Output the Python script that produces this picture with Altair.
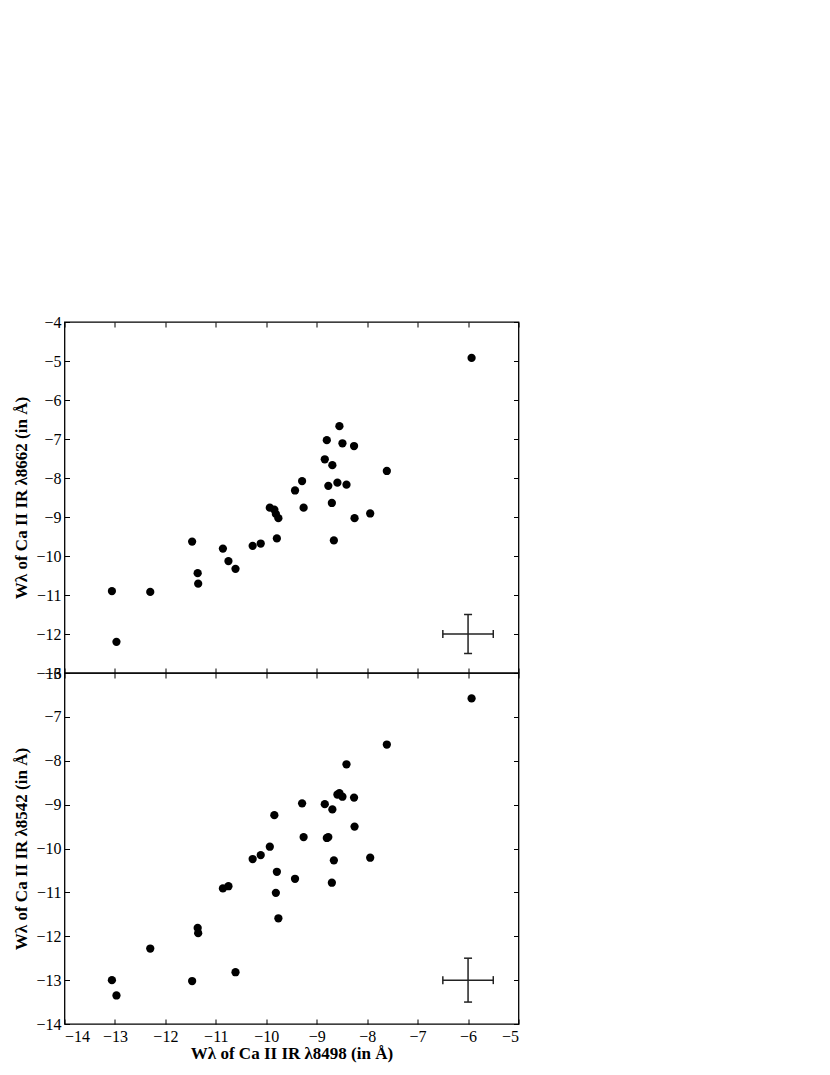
import altair as alt
import pandas as pd

# W_lambda of Ca II IR 8498 (x, shared)
x_8498 = [-13.06, -12.97, -12.30, -11.47, -11.36, -11.35, -10.86, -10.75, -10.61,
          -10.27, -10.11, -9.93, -9.84, -9.81, -9.79, -9.76, -9.43, -9.29, -9.26,
          -8.84, -8.80, -8.77, -8.69, -8.66, -8.70, -8.59, -8.55, -8.49, -8.41,
          -8.26, -8.25, -7.94, -7.61, -5.93]
# W_lambda of Ca II IR 8662 (top panel)
y_8662 = [-10.90, -12.20, -10.92, -9.63, -10.44, -10.71, -9.81, -10.13, -10.33,
          -9.74, -9.68, -8.76, -8.81, -8.92, -9.55, -9.03, -8.32, -8.08, -8.76,
          -7.52, -7.03, -8.20, -7.67, -9.60, -8.64, -8.12, -6.67, -7.11, -8.17,
          -7.18, -9.03, -8.91, -7.82, -4.92]
# W_lambda of Ca II IR 8542 (bottom panel)
y_8542 = [-13.00, -13.35, -12.28, -13.02, -11.81, -11.93, -10.91, -10.86, -12.82,
          -10.24, -10.15, -9.96, -9.24, -11.01, -10.53, -11.59, -10.69, -8.97, -9.74,
          -8.99, -9.76, -9.74, -9.11, -10.27, -10.78, -8.77, -8.74, -8.82, -8.08,
          -8.84, -9.50, -10.21, -7.63, -6.58]

x_ticks = [-14, -13, -12, -11, -10, -9, -8, -7, -6, -5]
y_ticks_top = [-13, -12, -11, -10, -9, -8, -7, -6, -5, -4]
y_ticks_bottom = [-14, -13, -12, -11, -10, -9, -8, -7, -6]

# representative error bar (centre and half-widths)
err_x = [-6.0]
err_y_top = [-12.0]
err_y_bottom = [-13.0]
err_half_x = 0.5
err_half_y = 0.5

x_title = "Wλ of Ca II IR λ8498 (in Å)"
y_title_top = "Wλ of Ca II IR λ8662 (in Å)"
y_title_bottom = "Wλ of Ca II IR λ8542 (in Å)"

FONT = "Liberation Serif"
INWARD = {"expr": "-5"}


def panel(yvals, ydomain, yticks, ytitle, err_y, bottom):
    df = pd.DataFrame({"x": x_8498, "y": yvals})
    edf = pd.DataFrame({
        "x": err_x, "y": err_y,
        "xlo": [v - err_half_x for v in err_x], "xhi": [v + err_half_x for v in err_x],
        "ylo": [v - err_half_y for v in err_y], "yhi": [v + err_half_y for v in err_y],
    })
    xs = alt.Scale(domain=[-14, -5], nice=False, zero=False)
    ys = alt.Scale(domain=ydomain, nice=False, zero=False)

    if bottom:
        x_axis = alt.Axis(orient="bottom", values=x_ticks, tickSize=INWARD, labels=True,
                          title=x_title, labelPadding=9, titlePadding=1, domain=False, grid=False)
    else:
        x_axis = alt.Axis(orient="bottom", values=x_ticks, tickSize=INWARD, labels=False,
                          title=None, domain=False, grid=False)
    y_axis = alt.Axis(orient="left", values=yticks, tickSize=INWARD, labels=True,
                      title=ytitle, labelPadding=8.5, titlePadding=5, domain=False, grid=False)

    pts = alt.Chart(df).mark_circle(size=68, color="black", opacity=1).encode(
        x=alt.X("x:Q", scale=xs, axis=x_axis),
        y=alt.Y("y:Q", scale=ys, axis=y_axis),
    )

    hbar = alt.Chart(edf).mark_rule(color="#222222", strokeWidth=1.5).encode(
        x=alt.X("xlo:Q", scale=xs, axis=alt.Axis(orient="top", values=x_ticks, tickSize=INWARD,
                                                   labels=False, title=None, domain=False, grid=False)),
        x2="xhi:Q",
        y=alt.Y("y:Q", scale=ys, axis=alt.Axis(orient="right", values=yticks, tickSize=INWARD,
                                                 labels=False, title=None, domain=False, grid=False)),
    )
    vbar = alt.Chart(edf).mark_rule(color="#222222", strokeWidth=1.5).encode(
        x=alt.X("x:Q", scale=xs, axis=None),
        y=alt.Y("ylo:Q", scale=ys, axis=None),
        y2="yhi:Q",
    )
    hcaps = alt.Chart(edf).transform_fold(["xlo", "xhi"], as_=["k", "cx"]).mark_tick(
        orient="vertical", size=8, thickness=1.5, color="#222222", opacity=1
    ).encode(
        x=alt.X("cx:Q", scale=xs, axis=None),
        y=alt.Y("y:Q", scale=ys, axis=None),
    )
    vcaps = alt.Chart(edf).transform_fold(["ylo", "yhi"], as_=["k", "cy"]).mark_tick(
        orient="horizontal", size=8, thickness=1.5, color="#222222", opacity=1
    ).encode(
        x=alt.X("x:Q", scale=xs, axis=None),
        y=alt.Y("cy:Q", scale=ys, axis=None),
    )
    return alt.layer(pts, hbar, vbar, hcaps, vcaps).resolve_axis(
        x="independent", y="independent"
    ).properties(width=454, height=351)


top = panel(y_8662, [-13, -4], y_ticks_top, y_title_top, err_y_top, False)
bot = panel(y_8542, [-14, -6], y_ticks_bottom, y_title_bottom, err_y_bottom, True)

chart = alt.vconcat(top, bot, spacing=0, bounds="flush").properties(
    padding={"left": 3.5, "top": 305, "right": 5, "bottom": 5}
).configure_view(
    stroke="black", strokeWidth=1.3
).configure_axis(
    labelFont=FONT, labelFontSize=16, labelColor="black",
    titleFont=FONT, titleFontSize=17, titleFontWeight="bold", titleColor="black",
    tickColor="black", tickWidth=1
)

chart.save("out.html", embed_options={"renderer": "svg", "actions": False})
